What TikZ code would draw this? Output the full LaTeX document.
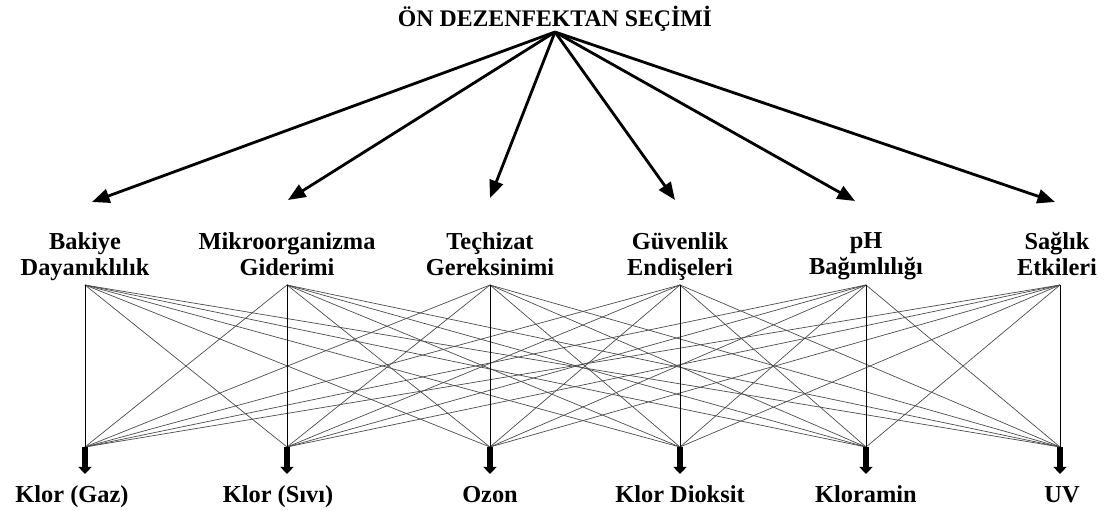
\documentclass[tikz,border=0pt]{standalone}
\usepackage{fontspec}
\setmainfont{Liberation Serif}
\usetikzlibrary{positioning}
\usetikzlibrary{arrows.meta}
\tikzset{
    critnode/.style = {align=center,anchor=north,font=\bfseries\fontsize{20.8}{22.5}\selectfont,text=black,inner sep=0pt},
    altnode/.style = {anchor=base,font=\bfseries\fontsize{20.8}{24}\selectfont,text=black,inner sep=0pt},
    titlenode/.style = {anchor=base,font=\bfseries\fontsize{20.3}{24}\selectfont,text=black,inner sep=0pt},
    edgen/.style = {-,line width=0.6pt,black!70},
    edgev/.style = {-,line width=0.6pt,black},
    edgetop/.style = {-{Triangle[length=15pt,width=12pt]},line width=2.4pt,black},
    edgedown/.style = {-{Triangle[length=6pt,width=11pt]},line width=5.5pt,black}
}
\begin{document}
\begin{tikzpicture}[x=0.03cm,y=-0.03cm]
  \useasboundingbox (0,0) rectangle (1112,511);
  % title
  \node[titlenode] (title) at (555,27) {ÖN DEZENFEKTAN SEÇİMİ};
  \coordinate (top) at (555,32);
  % criteria
  \node[critnode] (c1) at (85,232) {Bakiye\\Dayanıklılık};
  \node[critnode] (c2) at (287,232) {Mikroorganizma\\Giderimi};
  \node[critnode] (c3) at (490,232) {Teçhizat\\Gereksinimi};
  \node[critnode] (c4) at (680,232) {Güvenlik\\Endişeleri};
  \node[critnode] (c5) at (866,232) {pH\\Bağımlılığı};
  \node[critnode] (c6) at (1057,232) {Sağlık\\Etkileri};
  % arrow tips under the title
  \coordinate (t1) at (92,202);
  \coordinate (t2) at (288,200);
  \coordinate (t3) at (490,198);
  \coordinate (t4) at (675,200);
  \coordinate (t5) at (855,201);
  \coordinate (t6) at (1055,202);
  % line starts
  \coordinate (b1) at (85,285);
  \coordinate (b2) at (287,285);
  \coordinate (b3) at (490,285);
  \coordinate (b4) at (680,285);
  \coordinate (b5) at (866,285);
  \coordinate (b6) at (1060,285);
  % alternatives
  \coordinate (a1) at (85,447);
  \coordinate (a2) at (287,447);
  \coordinate (a3) at (490,447);
  \coordinate (a4) at (680,447);
  \coordinate (a5) at (866,447);
  \coordinate (a6) at (1060,447);
  \coordinate (d1) at (85,474);
  \coordinate (d2) at (287,474);
  \coordinate (d3) at (490,474);
  \coordinate (d4) at (680,474);
  \coordinate (d5) at (866,474);
  \coordinate (d6) at (1060,474);
  \node[altnode] (k1) at (72,502) {Klor (Gaz)};
  \node[altnode] (k2) at (278,502) {Klor (Sıvı)};
  \node[altnode] (k3) at (490,502) {Ozon};
  \node[altnode] (k4) at (680,502) {Klor Dioksit};
  \node[altnode] (k5) at (866,502) {Kloramin};
  \node[altnode] (k6) at (1062,502) {UV};
  % top arrows
  \foreach \i in {1,...,6}
    \draw[edgetop] (top) -- (t\i);
  % criteria to alternatives
  \foreach \i in {1,...,6}
    \foreach \j in {1,...,6}
      \draw[edgen] (b\i) -- (a\j);
  \foreach \i in {1,...,6}
    \draw[edgev] (b\i) -- (a\i);
  % bottom arrows
  \foreach \i in {1,...,6}
    \draw[edgedown] (a\i) -- (d\i);
\end{tikzpicture}
\end{document}
